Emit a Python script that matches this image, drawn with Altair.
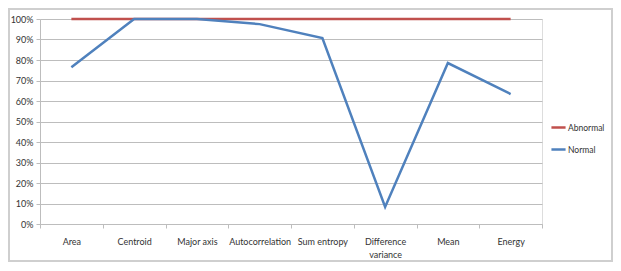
import altair as alt
import pandas as pd

categories = ["Area", "Centroid", "Major axis", "Autocorrelation", "Sum entropy",
              "Difference variance", "Mean", "Energy"]
abnormal = [1.0, 1.0, 1.0, 1.0, 1.0, 1.0, 1.0, 1.0]
normal = [0.765, 1.0, 1.0, 0.975, 0.907, 0.083, 0.785, 0.634]
series = ["Abnormal", "Normal"]
colors = ["#c0504d", "#4f81bd"]

rows = []
for c, v in zip(categories, abnormal):
    rows.append({"feature": c, "value": v, "series": "Abnormal"})
for c, v in zip(categories, normal):
    rows.append({"feature": c, "value": v, "series": "Normal"})
df = pd.DataFrame(rows)

FONT = "Lato"
GRID = "#bdbdbd"

lines = alt.Chart(df).mark_line(strokeWidth=2.5).encode(
    x=alt.X("feature:N", sort=categories, bandPosition=0.5,
            scale=alt.Scale(type="band", paddingInner=0, paddingOuter=0),
            axis=alt.Axis(title=None, labelAngle=0, tickBand="extent", grid=False,
                          domainColor=GRID, tickColor=GRID, tickSize=4,
                          labelFont=FONT, labelFontSize=9, labelColor="#333333",
                          labelPadding=9, labelLineHeight=13,
                          labelExpr="datum.label == 'Difference variance' ? ['Difference', 'variance'] : datum.label")),
    y=alt.Y("value:Q", scale=alt.Scale(domain=[0, 1], nice=False),
            axis=alt.Axis(title=None, format=".0%", values=[i / 10 for i in range(11)],
                          grid=True, gridColor=GRID, gridWidth=1.2,
                          domainColor=GRID, tickColor=GRID, tickSize=4,
                          labelFont=FONT, labelFontSize=9, labelColor="#333333",
                          labelPadding=3)),
    color=alt.Color("series:N", scale=alt.Scale(domain=series, range=colors),
                    legend=alt.Legend(title=None, orient="none", legendX=510, legendY=100,
                                      symbolType="stroke", symbolStrokeWidth=2.5,
                                      symbolSize=200, labelFont=FONT, labelFontSize=8.5,
                                      labelColor="#333333", rowPadding=8, labelOffset=1)),
    order=alt.Order("series:N"),
)

border = alt.Chart(pd.DataFrame({"a": [0]})).mark_rect(
    fill=None, stroke="#cfcfcf", strokeWidth=2
).encode(x=alt.value(-31), x2=alt.value(572), y=alt.value(-10), y2=alt.value(242))

chart = alt.layer(border, lines).properties(
    width=502, height=205,
    autosize=alt.AutoSizeParams(type="none"),
    padding={"left": 32, "top": 11, "right": 71, "bottom": 39},
).configure_view(stroke=None).configure(background="white")

chart.save("out.html", embed_options={"renderer": "svg", "actions": False})
